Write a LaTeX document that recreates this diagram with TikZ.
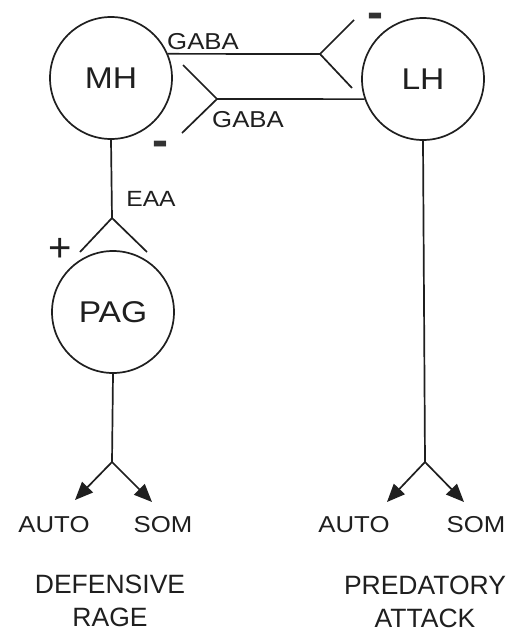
\documentclass[tikz,border=0pt]{standalone}
\usepackage{fontspec}
\setmainfont{Liberation Sans}
\newfontfamily\widefont[FakeStretch=1.12]{Liberation Sans}
\usetikzlibrary{arrows.meta}
\begin{document}
\begin{tikzpicture}[x=1pt,y=-1pt, line width=1.7pt, color=black!88,
  region/.style={circle, draw, minimum size=122pt, inner sep=0pt, font=\widefont\fontsize{30}{30}\selectfont},
  lbl/.style={inner sep=0pt, font=\widefont\fontsize{23}{23}\selectfont},
  eaalbl/.style={inner sep=0pt, font=\widefont\fontsize{22}{22}\selectfont},
  outlbl/.style={inner sep=0pt, font=\widefont\fontsize{23}{23}\selectfont},
  beh/.style={inner sep=0pt, align=center, font=\fontsize{26.5}{33}\selectfont},
  sign/.style={inner sep=0pt, anchor=north, text=black!80, font=\fontsize{48}{48}\selectfont\bfseries},
  plus/.style={inner sep=0pt, font=\fontsize{40}{40}\selectfont},
  arr/.style={-{Triangle[length=18pt,width=15pt]}, fill=black!72}]
\useasboundingbox[fill=white] (0,0) rectangle (518,632);

% regions
\node[region] (MH) at (111,78) {MH};
\node[region] (LH) at (423,79) {LH};
\node[region] (PAG) at (113,312) {PAG};

% MH -> LH (GABA, inhibitory)
\coordinate (f1) at (320,54);
\coordinate (f1a) at (354,20);
\coordinate (f1b) at (352,88);
\draw (MH.23) -- (f1);
\draw (f1a) -- (f1) -- (f1b);
\node[lbl] (gaba1) at (203,42) {GABA};
\node[sign] (m1) at (375,12) {-};

% LH -> MH (GABA, inhibitory)
\coordinate (f2) at (217,99);
\coordinate (f2a) at (183,65);
\coordinate (f2b) at (182,133);
\draw (LH.-161) -- (f2);
\draw (f2a) -- (f2) -- (f2b);
\node[lbl] (gaba2) at (248,120) {GABA};
\node[sign] (m2) at (160,140) {-};

% MH -> PAG (EAA, excitatory)
\coordinate (f3) at (112,218);
\coordinate (f3a) at (80,252);
\coordinate (f3b) at (147,252);
\draw (MH.south) -- (f3);
\draw (f3a) -- (f3) -- (f3b);
\node[eaalbl] (eaa) at (151,199) {EAA};
\node[plus] (p1) at (60,250) {+};

% PAG outputs
\coordinate (f4) at (112,462);
\draw (PAG.south) -- (f4);
\node[outlbl] (auto1) at (54,525) {AUTO};
\node[outlbl] (som1) at (163,525) {SOM};
\draw[arr] (f4) -- (75,500);
\draw[arr] (f4) -- (152,502);

% LH outputs
\coordinate (f5) at (425,462);
\draw (LH.south) -- (f5);
\node[outlbl] (auto2) at (354,525) {AUTO};
\node[outlbl] (som2) at (476,525) {SOM};
\draw[arr] (f5) -- (387,502);
\draw[arr] (f5) -- (464,502);

% behaviours
\node[beh] (def) at (110,601) {DEFENSIVE\\RAGE};
\node[beh] (pred) at (425,602) {PREDATORY\\ATTACK};
\end{tikzpicture}
\end{document}
